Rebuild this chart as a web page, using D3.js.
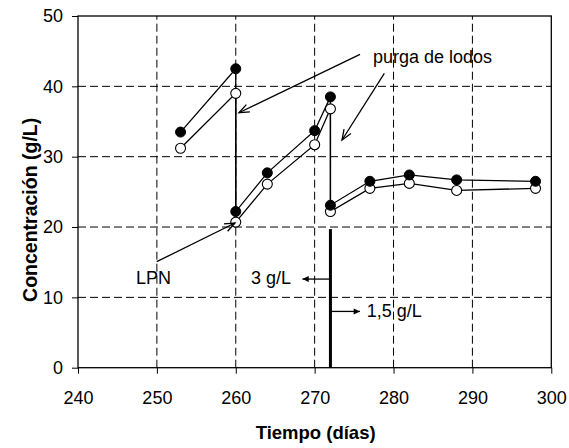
<!DOCTYPE html>
<html>
<head>
<meta charset="utf-8">
<script src="https://cdn.jsdelivr.net/npm/d3@7"></script>
<style>
  html, body { margin: 0; padding: 0; background: #fff; }
  svg { display: block; font-family: "Liberation Sans", Arial, sans-serif; }
</style>
</head>
<body>
<svg id="chart" width="569" height="448"></svg>
<script>
// Sampling days (the repeated days are the sludge purges: before / after)
const days = [253, 260, 260, 264, 270, 272, 272, 277, 282, 288, 298];
// Filled markers
const serieLlena = [33.5, 42.5, 22.2, 27.7, 33.7, 38.5, 23.1, 26.5, 27.4, 26.7, 26.5];
// Open markers
const serieVacia = [31.2, 39.0, 20.7, 26.1, 31.7, 36.8, 22.2, 25.5, 26.2, 25.2, 25.5];

const xTicks = [240, 250, 260, 270, 280, 290, 300];
const yTicks = [0, 10, 20, 30, 40, 50];

// Day where the dose changes, and the height of its marker line
const cambioDia = 272;
const cambioTope = 19.7;

const svg = d3.select("#chart");
const x = d3.scaleLinear().domain([240, 300]).range([78, 551.3]);
const y = d3.scaleLinear().domain([0, 50]).range([367.7, 16]);

const fontTick = 18;

// dashed grid
const grid = svg.append("g").attr("stroke", "#000").attr("stroke-width", 1)
  .attr("stroke-dasharray", "8,4").attr("fill", "none");
xTicks.slice(1, -1).forEach(t => {
  grid.append("line").attr("x1", x(t)).attr("x2", x(t)).attr("y1", y(0)).attr("y2", y(50));
});
yTicks.slice(1, -1).forEach(t => {
  grid.append("line").attr("x1", x(240)).attr("x2", x(300)).attr("y1", y(t)).attr("y2", y(t));
});

// frame
svg.append("rect").attr("x", x(240)).attr("y", y(50))
  .attr("width", x(300) - x(240)).attr("height", y(0) - y(50))
  .attr("fill", "none").attr("stroke", "#000").attr("stroke-width", 1.3);

// axes
const xAxis = d3.axisBottom(x).tickValues(xTicks).tickSize(6).tickPadding(18).tickSizeOuter(0);
const gx = svg.append("g").attr("transform", `translate(0,${y(0)})`).call(xAxis);
gx.select(".domain").remove();
gx.selectAll("text").attr("font-size", fontTick).attr("font-family", "Liberation Sans, Arial, sans-serif").attr("fill", "#000");
gx.selectAll("line").attr("stroke", "#000");

const yAxis = d3.axisLeft(y).tickValues(yTicks).tickSize(6).tickPadding(9).tickSizeOuter(0);
const gy = svg.append("g").attr("transform", `translate(${x(240)},0)`).call(yAxis);
gy.select(".domain").remove();
gy.selectAll("text").attr("font-size", fontTick).attr("font-family", "Liberation Sans, Arial, sans-serif").attr("fill", "#000");
gy.selectAll("line").attr("stroke", "#000");

// axis titles
svg.append("text").attr("x", (x(240) + x(300)) / 2 + 1).attr("y", 439)
  .attr("text-anchor", "middle").attr("font-weight", "bold").attr("font-size", 18.5)
  .text("Tiempo (días)");
svg.append("text").attr("transform", `translate(37,${(y(0) + y(50)) / 2 + 18}) rotate(-90)`)
  .attr("text-anchor", "middle").attr("font-weight", "bold").attr("font-size", 19.5)
  .text("Concentración  (g/L)");

// marker line for the dose change
svg.append("line").attr("x1", x(cambioDia)).attr("x2", x(cambioDia))
  .attr("y1", y(cambioTope)).attr("y2", y(0))
  .attr("stroke", "#000").attr("stroke-width", 3);

// series lines
const line = d3.line().x(d => x(d[0])).y(d => y(d[1]));
[serieLlena, serieVacia].forEach(s => {
  svg.append("path").datum(days.map((d, i) => [d, s[i]]))
    .attr("d", line).attr("fill", "none").attr("stroke", "#000").attr("stroke-width", 1.3);
});

// markers
svg.append("g").selectAll("circle").data(days.map((d, i) => [d, serieVacia[i]]))
  .join("circle").attr("cx", d => x(d[0])).attr("cy", d => y(d[1])).attr("r", 5)
  .attr("fill", "#fff").attr("stroke", "#000").attr("stroke-width", 1.1);
svg.append("g").selectAll("circle").data(days.map((d, i) => [d, serieLlena[i]]))
  .join("circle").attr("cx", d => x(d[0])).attr("cy", d => y(d[1])).attr("r", 5)
  .attr("fill", "#000").attr("stroke", "#000").attr("stroke-width", 1);

// annotation helpers
function openArrow(x1, y1, x2, y2) {
  const g = svg.append("g").attr("stroke", "#000").attr("stroke-width", 1.3).attr("fill", "none");
  g.append("line").attr("x1", x1).attr("y1", y1).attr("x2", x2).attr("y2", y2);
  const a = Math.atan2(y2 - y1, x2 - x1), L = 11, w = 0.38;
  g.append("path").attr("d",
    `M${x2 - L * Math.cos(a - w)},${y2 - L * Math.sin(a - w)}L${x2},${y2}L${x2 - L * Math.cos(a + w)},${y2 - L * Math.sin(a + w)}`);
}
function solidArrow(x1, y1, x2, y2) {
  svg.append("line").attr("x1", x1).attr("y1", y1).attr("x2", x2).attr("y2", y2)
    .attr("stroke", "#000").attr("stroke-width", 1.3);
  const a = Math.atan2(y2 - y1, x2 - x1), L = 7, w = 0.45;
  svg.append("path").attr("d",
    `M${x2},${y2}L${x2 - L * Math.cos(a - w)},${y2 - L * Math.sin(a - w)}L${x2 - L * Math.cos(a + w)},${y2 - L * Math.sin(a + w)}Z`)
    .attr("fill", "#000");
}
function label(px, py, txt) {
  svg.append("text").attr("x", px).attr("y", py).attr("font-size", fontTick).attr("fill", "#000").text(txt);
}

// "purga de lodos"
label(x(277.4), y(43.3), "purga de lodos");
openArrow(x(275.75), y(44.55), x(260.4), y(36.25));
openArrow(x(278.83), y(41.85), x(273.47), y(32.37));

// LPN
label(x(247.35), y(11.9), "LPN");
openArrow(x(249.98), y(15.07), x(259.9), y(20.57));

// dose labels
label(x(261.93), y(11.9), "3 g/L");
solidArrow(x(cambioDia), y(12.6), x(268.45), y(12.6));
label(x(276.6), y(7.25), "1,5 g/L");
solidArrow(x(cambioDia), y(8.0), x(275.75), y(8.0));
</script>
</body>
</html>
